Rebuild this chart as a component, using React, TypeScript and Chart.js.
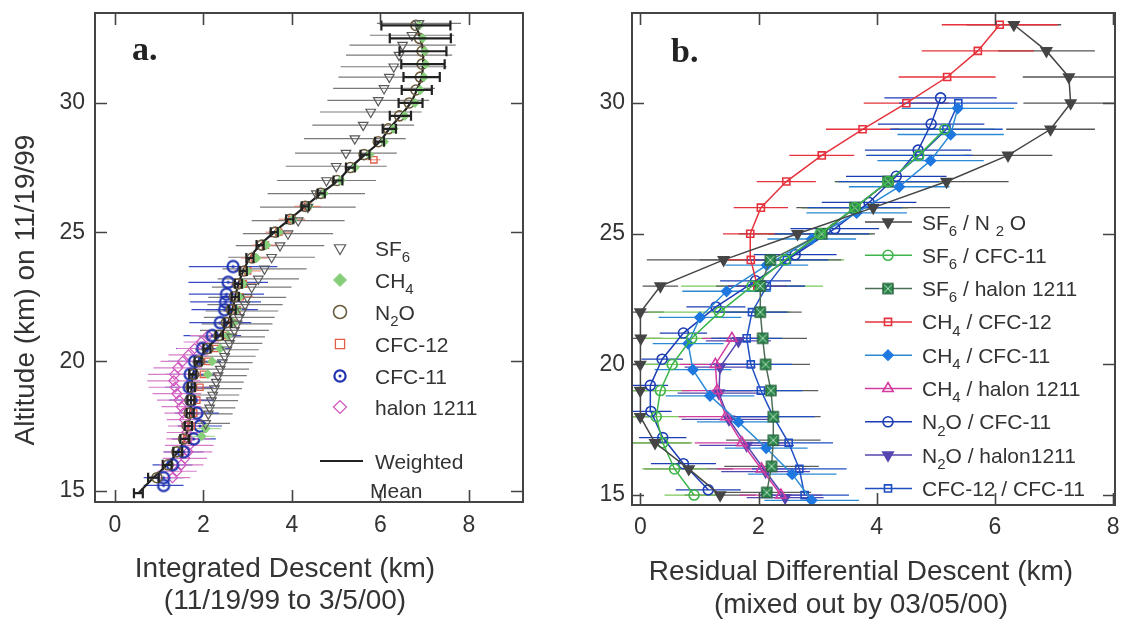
import React, { useEffect, useRef } from "react";
import { Chart, registerables } from "chart.js";
import { drawPoint } from "chart.js/helpers";

Chart.register(...registerables);

const FONT = '"Liberation Sans", Arial, Helvetica, sans-serif';
const SERIF = '"Liberation Serif", "Times New Roman", serif';
const INK = "#333333";

// ---------- shared ticks ----------
const altTicks = [15, 20, 25, 30];
const aXTicks = [0, 2, 4, 6, 8];
const bXTicks = [0, 2, 4, 6, 8];

// ---------- panel a : integrated descent ----------
const wmAlt = [14.9, 15.5, 16.0, 16.5, 17.0, 17.5, 18.0, 18.5, 19.0, 19.5, 20.0, 20.5, 21.0, 21.5, 22.0, 22.5, 23.0, 23.5, 24.0, 24.5, 25.0, 25.5, 26.0, 26.5, 27.0, 27.5, 28.0, 28.5, 29.0, 29.5, 30.0, 30.5, 31.0, 31.5, 32.0, 32.5, 33.0];
const wmX = [0.53, 0.87, 1.18, 1.42, 1.58, 1.66, 1.7, 1.72, 1.73, 1.76, 1.88, 2.08, 2.36, 2.55, 2.65, 2.72, 2.79, 2.9, 3.05, 3.28, 3.6, 3.95, 4.3, 4.66, 5.04, 5.32, 5.65, 5.98, 6.2, 6.45, 6.68, 6.82, 6.93, 6.96, 6.96, 6.9, 6.8];
const wmErr = [0.1, 0.12, 0.1, 0.1, 0.1, 0.08, 0.08, 0.08, 0.08, 0.08, 0.08, 0.08, 0.08, 0.08, 0.08, 0.08, 0.08, 0.08, 0.08, 0.08, 0.08, 0.08, 0.08, 0.08, 0.1, 0.1, 0.1, 0.1, 0.15, 0.24, 0.27, 0.34, 0.41, 0.49, 0.53, 0.69, 0.78];

const sf6Alt = [17.6, 17.97, 18.2, 18.48, 18.7, 18.95, 19.2, 19.45, 19.7, 19.95, 20.2, 20.45, 20.7, 20.95, 21.2, 21.45, 21.7, 21.95, 22.2, 22.48, 22.87, 23.19, 23.58, 24.03, 24.48, 24.94, 25.45, 25.97, 26.49, 27.0, 27.55, 28.06, 28.62, 29.14, 29.65, 30.1, 30.56, 31.0, 31.4, 31.85, 32.24, 32.62, 33.08];
const sf6X = [2.05, 2.11, 2.14, 2.18, 2.21, 2.25, 2.29, 2.33, 2.38, 2.43, 2.48, 2.53, 2.59, 2.64, 2.7, 2.76, 2.81, 2.87, 2.94, 2.99, 3.09, 3.24, 3.38, 3.54, 3.73, 3.91, 4.14, 4.36, 4.55, 4.78, 5.0, 5.22, 5.42, 5.61, 5.78, 5.95, 6.08, 6.2, 6.3, 6.42, 6.5, 6.71, 6.87];
const sf6Err = [0.55, 0.55, 0.58, 0.6, 0.6, 0.62, 0.62, 0.65, 0.65, 0.68, 0.7, 0.72, 0.74, 0.75, 0.78, 0.8, 0.8, 0.82, 0.85, 0.88, 0.9, 0.92, 0.95, 0.98, 1.0, 1.02, 1.05, 1.08, 1.1, 1.12, 1.14, 1.15, 1.15, 1.15, 1.15, 1.15, 1.15, 1.15, 1.2, 1.2, 1.2, 0.95, 0.95];

const ch4Alt = [17.1, 17.4, 19.5, 20.0, 20.5, 21.0, 21.5, 22.0, 22.5, 23.0, 23.5, 24.0, 24.5, 25.0, 25.5, 26.0, 26.5, 27.0, 27.5, 28.0, 28.5, 29.0, 29.5, 30.0, 30.5, 31.0, 31.5, 32.0, 32.5, 33.0];
const ch4X = [1.96, 2.05, 2.1, 2.2, 2.38, 2.55, 2.68, 2.76, 2.82, 2.9, 3.0, 3.2, 3.42, 3.7, 4.02, 4.38, 4.72, 5.1, 5.42, 5.75, 6.08, 6.3, 6.55, 6.78, 6.9, 6.98, 7.02, 7.0, 6.95, 6.88];
const ch4Err = [0.3, 0.35, 0, 0, 0, 0, 0, 0, 0, 0, 0, 0, 0, 0, 0, 0, 0, 0, 0, 0, 0, 0, 0, 0, 0, 0, 0, 0, 0, 0];

const n2oAlt = [15.5, 16.0, 16.5, 17.0, 17.5, 18.0, 18.5, 19.0, 19.5, 20.0, 20.5, 21.0, 21.5, 22.0, 22.5, 23.0, 23.5, 24.0, 24.5, 25.0, 25.5, 26.0, 26.5, 27.0, 27.5, 28.0, 28.5, 29.0, 29.5, 30.0, 30.5, 31.0, 31.5, 32.0, 32.5, 33.0];
const n2oX = [0.95, 1.2, 1.4, 1.55, 1.64, 1.68, 1.7, 1.72, 1.78, 1.9, 2.1, 2.35, 2.52, 2.63, 2.7, 2.78, 2.92, 3.1, 3.32, 3.62, 3.96, 4.3, 4.65, 5.02, 5.32, 5.63, 5.95, 6.18, 6.43, 6.65, 6.8, 6.9, 6.94, 6.94, 6.88, 6.8];

const cfc12Alt = [17.0, 17.5, 18.0, 18.5, 19.0, 19.5, 20.0, 20.5, 21.0, 21.5, 22.0, 22.5, 23.0, 23.5, 24.0, 24.5, 25.0, 25.5, 26.0, 27.8];
const cfc12X = [1.62, 1.72, 1.78, 1.85, 1.92, 2.0, 2.1, 2.28, 2.5, 2.66, 2.76, 2.83, 2.9, 3.0, 3.15, 3.4, 3.7, 4.0, 4.35, 5.85];
const cfc12Err = [0.3, 0.3, 0.3, 0.3, 0.3, 0.3, 0.3, 0.3, 0.3, 0.3, 0.3, 0.3, 0.3, 0.3, 0.3, 0.3, 0.3, 0.3, 0.3, 0.15];

const cfc11Alt = [15.2, 15.5, 16.0, 16.5, 17.0, 17.5, 18.0, 18.5, 19.0, 19.5, 20.0, 20.5, 21.0, 21.5, 22.0, 22.3, 22.6, 23.06, 23.67];
const cfc11X = [1.1, 1.1, 1.3, 1.55, 1.78, 1.92, 1.85, 1.72, 1.68, 1.7, 1.8, 1.98, 2.2, 2.38, 2.48, 2.5, 2.52, 2.56, 2.67];
const cfc11Err = [0.45, 0.45, 0.45, 0.45, 0.5, 0.5, 0.5, 0.5, 0.55, 0.55, 0.6, 0.6, 0.65, 0.7, 0.75, 0.8, 0.85, 0.9, 1.0];

const halonAlt = [15.5, 15.75, 16.0, 16.25, 16.5, 16.75, 17.0, 17.25, 17.5, 17.75, 18.0, 18.25, 18.5, 18.75, 19.0, 19.25, 19.5, 19.75, 20.0, 20.25, 20.5, 20.75, 21.0];
const halonX = [1.3, 1.4, 1.5, 1.58, 1.65, 1.68, 1.66, 1.62, 1.6, 1.57, 1.54, 1.5, 1.45, 1.4, 1.36, 1.33, 1.35, 1.42, 1.53, 1.66, 1.8, 1.95, 2.1];
const halonErr = [0.4, 0.45, 0.5, 0.5, 0.55, 0.55, 0.5, 0.45, 0.4, 0.4, 0.42, 0.45, 0.5, 0.55, 0.6, 0.6, 0.6, 0.55, 0.5, 0.45, 0.4, 0.4, 0.4];

// ---------- panel b : residual differential descent ----------
const sf6n2oAlt = [15, 16, 17, 18, 19, 20, 21, 22, 23, 24, 25, 26, 27, 28, 29, 30, 31, 32, 33];
const sf6n2oX = [1.35, 0.82, 0.25, 0.0, 0.0, 0.0, 0.01, 0.0, 0.34, 1.41, 2.66, 3.94, 5.18, 6.22, 6.94, 7.28, 7.25, 6.87, 6.32];
const sf6n2oErr = [0.6, 0.75, 0.6, 0.25, 0.3, 0.3, 0.35, 0.4, 0.3, 1.3, 1.0, 1.3, 1.05, 0.75, 0.75, 0.8, 0.78, 0.82, 0.8];

const sf6cfc11Alt = [15, 16, 17, 18, 19, 20, 21, 22, 23, 24, 25, 26, 27, 28, 29];
const sf6cfc11X = [0.91, 0.58, 0.38, 0.27, 0.34, 0.54, 0.87, 1.34, 1.89, 2.45, 3.04, 3.63, 4.19, 4.71, 5.15];
const sf6cfc11Err = [0.5, 0.55, 0.5, 0.5, 0.5, 0.6, 0.8, 1.2, 1.2, 1.0, 0.9, 0.9, 0.9, 0.85, 0.85];

const sf6halAlt = [15.1, 16.1, 17.1, 18, 19, 20, 21, 22, 23, 24, 25, 26, 27];
const sf6halX = [2.14, 2.22, 2.25, 2.25, 2.21, 2.12, 2.07, 2.03, 2.03, 2.2, 3.07, 3.63, 4.19];
const sf6halErr = [0.75, 0.8, 0.8, 0.8, 0.8, 0.75, 0.75, 0.7, 0.75, 1.2, 0.9, 0.9, 0.9];

const ch4cfc12Alt = [23, 24, 25, 26, 27, 28, 29, 30, 31, 32, 33];
const ch4cfc12X = [1.98, 1.87, 1.86, 2.04, 2.47, 3.07, 3.76, 4.5, 5.19, 5.71, 6.08];
const ch4cfc12Err = [0.5, 0.5, 0.46, 0.46, 0.5, 0.55, 0.62, 0.72, 0.82, 0.95, 0.98];

const ch4cfc11Alt = [14.8, 15.8, 16.8, 17.8, 18.8, 19.8, 20.8, 21.8, 22.8, 23.8, 24.8, 25.8, 26.8, 27.8, 28.8, 29.8];
const ch4cfc11X = [2.9, 2.57, 2.13, 1.66, 1.18, 0.89, 0.81, 1.01, 1.46, 2.14, 2.9, 3.66, 4.38, 4.91, 5.25, 5.37];
const ch4cfc11Err = [0.8, 0.75, 0.7, 0.7, 0.75, 0.65, 0.6, 0.7, 0.75, 0.7, 0.75, 0.85, 0.85, 0.9, 0.9, 0.95];

const ch4halAlt = [15, 16, 17, 18, 19, 20, 21];
const ch4halX = [2.38, 2.05, 1.72, 1.45, 1.3, 1.27, 1.55];
const ch4halErr = [0.7, 0.75, 0.8, 0.8, 0.6, 0.6, 0.5];

const n2ocfc11Alt = [15.2, 16.2, 17.2, 18.2, 19.2, 20.2, 21.2, 22.2, 23.2, 24.2, 25.2, 26.2, 27.2, 28.2, 29.2, 30.2];
const n2ocfc11X = [1.15, 0.73, 0.38, 0.18, 0.17, 0.37, 0.73, 1.28, 1.95, 2.62, 3.29, 3.87, 4.33, 4.7, 4.92, 5.08];
const n2ocfc11Err = [0.55, 0.55, 0.4, 0.35, 0.3, 0.35, 0.4, 0.5, 0.6, 0.7, 0.75, 0.8, 0.85, 0.9, 0.9, 0.95];

const n2ohalAlt = [14.9, 15.9, 16.9, 17.9, 18.9, 19.9, 20.9];
const n2ohalX = [2.45, 2.12, 1.8, 1.5, 1.33, 1.35, 1.66];
const n2ohalErr = [0.65, 0.75, 0.8, 0.8, 0.7, 0.6, 0.55];

const cfcRatioAlt = [15, 16, 17, 18, 19, 20, 21, 22, 23, 24, 25, 26, 27, 28, 29, 30];
const cfcRatioX = [2.78, 2.69, 2.51, 2.25, 2.04, 1.87, 1.8, 1.89, 2.14, 2.48, 3.07, 3.63, 4.2, 4.72, 5.18, 5.38];
const cfcRatioErr = [0.75, 0.8, 0.75, 0.7, 0.7, 0.7, 0.6, 0.6, 0.65, 0.7, 0.8, 0.8, 0.85, 0.9, 0.95, 1.0];

// ---------- legend labels ----------
type Seg = { t: string; sub?: boolean };
const aLegendLabels: Seg[][] = [
  [{ t: "SF" }, { t: "6", sub: true }],
  [{ t: "CH" }, { t: "4", sub: true }],
  [{ t: "N" }, { t: "2", sub: true }, { t: "O" }],
  [{ t: "CFC-12" }],
  [{ t: "CFC-11" }],
  [{ t: "halon 1211" }],
];
const bLegendLabels: Seg[][] = [
  [{ t: "SF" }, { t: "6", sub: true }, { t: " / N " }, { t: "2", sub: true }, { t: " O" }],
  [{ t: "SF" }, { t: "6", sub: true }, { t: " / CFC-11" }],
  [{ t: "SF" }, { t: "6", sub: true }, { t: " / halon 1211" }],
  [{ t: "CH" }, { t: "4", sub: true }, { t: " / CFC-12" }],
  [{ t: "CH" }, { t: "4", sub: true }, { t: " / CFC-11" }],
  [{ t: "CH" }, { t: "4", sub: true }, { t: " / halon 1211" }],
  [{ t: "N" }, { t: "2", sub: true }, { t: "O / CFC-11" }],
  [{ t: "N" }, { t: "2", sub: true }, { t: "O / halon1211" }],
  [{ t: "CFC-12 / CFC-11" }],
];

// ---------- helpers ----------
const pts = (xs: number[], ys: number[]) => xs.map((x, i) => ({ x, y: ys[i] }));

function drawRich(ctx: CanvasRenderingContext2D, segs: Seg[], x: number, yMid: number, size: number) {
  let cx = x;
  const base = yMid + size * 0.36;
  for (const s of segs) {
    const fs = s.sub ? Math.round(size * 0.72) : size;
    ctx.font = `${fs}px ${FONT}`;
    ctx.fillText(s.t, cx, s.sub ? base + size * 0.3 : base);
    cx += ctx.measureText(s.t).width;
  }
}

function legendMarker(ctx: CanvasRenderingContext2D, d: any, x: number, y: number, r?: number) {
  ctx.save();
  ctx.fillStyle = d.pointBackgroundColor;
  ctx.strokeStyle = d.pointBorderColor;
  ctx.lineWidth = d.pointBorderWidth;
  drawPoint(ctx, { pointStyle: d.pointStyle, rotation: d.pointRotation || 0, radius: r ?? d.pointRadius, borderWidth: d.pointBorderWidth } as any, x, y);
  ctx.restore();
}

function drawErr(chart: any, onTop: boolean) {
  const { ctx, chartArea: a } = chart;
  const xs = chart.scales.x;
  const ys = chart.scales.y;
  ctx.save();
  ctx.beginPath();
  ctx.rect(a.left, a.top, a.right - a.left, a.bottom - a.top);
  ctx.clip();
  chart.data.datasets.forEach((d: any) => {
    if (!d.errX || !!d.errOnTop !== onTop) return;
    ctx.strokeStyle = d.errColor;
    ctx.lineWidth = d.errWidth || 1;
    d.data.forEach((p: any, j: number) => {
      const e = d.errX[j];
      if (!e) return;
      const py = ys.getPixelForValue(p.y);
      const x1 = xs.getPixelForValue(p.x - e);
      const x2 = xs.getPixelForValue(p.x + e);
      ctx.beginPath();
      ctx.moveTo(x1, py);
      ctx.lineTo(x2, py);
      if (d.errCap) {
        ctx.moveTo(x1, py - d.errCap);
        ctx.lineTo(x1, py + d.errCap);
        ctx.moveTo(x2, py - d.errCap);
        ctx.lineTo(x2, py + d.errCap);
      }
      ctx.stroke();
    });
  });
  ctx.restore();
}

const errPlugin = {
  id: "errbars",
  beforeDatasetsDraw: (c: any) => drawErr(c, false),
  afterDatasetsDraw: (c: any) => drawErr(c, true),
};

const framePlugin = {
  id: "frame",
  afterDraw(chart: any) {
    const { ctx, chartArea: a } = chart;
    const x = chart.scales.x;
    const y = chart.scales.y;
    ctx.save();
    ctx.strokeStyle = "#444";
    ctx.lineWidth = 2;
    ctx.strokeRect(a.left, a.top, a.right - a.left, a.bottom - a.top);
    ctx.lineWidth = 1.6;
    const tl = 12;
    ctx.beginPath();
    x.ticks.forEach((t: any) => {
      const px = Math.round(x.getPixelForValue(t.value)) + 0.5;
      ctx.moveTo(px, a.bottom);
      ctx.lineTo(px, a.bottom - tl);
      ctx.moveTo(px, a.top);
      ctx.lineTo(px, a.top + tl);
    });
    y.ticks.forEach((t: any) => {
      const py = Math.round(y.getPixelForValue(t.value)) + 0.5;
      ctx.moveTo(a.left, py);
      ctx.lineTo(a.left + tl, py);
      ctx.moveTo(a.right, py);
      ctx.lineTo(a.right - tl, py);
    });
    ctx.stroke();
    ctx.restore();
  },
};

function makeCircleDot(color: string) {
  const c = document.createElement("canvas");
  c.width = 16;
  c.height = 16;
  const g = c.getContext("2d")!;
  g.strokeStyle = color;
  g.lineWidth = 2.2;
  g.beginPath();
  g.arc(8, 8, 5.6, 0, Math.PI * 2);
  g.stroke();
  g.fillStyle = color;
  g.beginPath();
  g.arc(8, 8, 1.5, 0, Math.PI * 2);
  g.fill();
  return c;
}

function makeSquareX(fill: string, edge: string, cross: string) {
  const c = document.createElement("canvas");
  c.width = 14;
  c.height = 14;
  const g = c.getContext("2d")!;
  g.fillStyle = fill;
  g.fillRect(2, 2, 10, 10);
  g.strokeStyle = cross;
  g.lineWidth = 1;
  g.beginPath();
  g.moveTo(3, 3);
  g.lineTo(11, 11);
  g.moveTo(11, 3);
  g.lineTo(3, 11);
  g.stroke();
  g.strokeStyle = edge;
  g.lineWidth = 1.5;
  g.strokeRect(2, 2, 10, 10);
  return c;
}

type Cfg = {
  datasets: any[];
  xMin: number; xMax: number; xTicks: number[];
  yMin: number; yMax: number;
  top: number; right: number; xH: number; yW: number; xPad: number; yPad: number;
  text: any;
};

function buildChart(canvas: HTMLCanvasElement, cfg: Cfg) {
  const tickFont = { family: FONT, size: 23 };
  return new Chart(canvas, {
    type: "scatter",
    data: { datasets: cfg.datasets },
    options: {
      animation: false,
      responsive: false,
      maintainAspectRatio: false,
      events: [],
      layout: { padding: { top: cfg.top, right: cfg.right, left: 0, bottom: 0 } },
      plugins: { legend: { display: false }, tooltip: { enabled: false } },
      scales: {
        x: {
          type: "linear",
          min: cfg.xMin,
          max: cfg.xMax,
          grid: { display: false, drawTicks: false },
          border: { display: false },
          afterBuildTicks: (s: any) => { s.ticks = cfg.xTicks.map((v) => ({ value: v })); },
          afterFit: (s: any) => { s.height = cfg.xH; s.paddingLeft = 0; s.paddingRight = 0; },
          ticks: { autoSkip: false, maxRotation: 0, padding: cfg.xPad, color: INK, font: tickFont, callback: (v: any) => String(v) },
        },
        y: {
          type: "linear",
          min: cfg.yMin,
          max: cfg.yMax,
          grid: { display: false, drawTicks: false },
          border: { display: false },
          afterBuildTicks: (s: any) => { s.ticks = altTicks.map((v) => ({ value: v })); },
          afterFit: (s: any) => { s.width = cfg.yW; s.paddingTop = 0; s.paddingBottom = 0; },
          ticks: { autoSkip: false, padding: cfg.yPad, color: INK, font: tickFont, callback: (v: any) => String(v) },
        },
      },
    } as any,
    plugins: [errPlugin, framePlugin, cfg.text],
  });
}

const CLEAR = "rgba(0,0,0,0)";

function panelA(circleDot: HTMLCanvasElement): Cfg {
  const datasets = [
    { label: "SF6", data: pts(sf6X, sf6Alt), pointStyle: "triangle", pointRotation: 180, pointRadius: 5.5, pointBorderWidth: 1.2, pointBorderColor: "#5a5a5a", pointBackgroundColor: CLEAR, errX: sf6Err, errColor: "#7a7a7a", errWidth: 1.2 },
    { label: "CH4", data: pts(ch4X, ch4Alt), pointStyle: "rectRot", pointRadius: 4.5, pointBorderWidth: 1, pointBorderColor: "#86cf78", pointBackgroundColor: "#86cf78", errX: ch4Err, errColor: "#a8dc98", errWidth: 1.2 },
    { label: "N2O", data: pts(n2oX, n2oAlt), pointStyle: "circle", pointRadius: 5, pointBorderWidth: 1.6, pointBorderColor: "#6a5c3c", pointBackgroundColor: CLEAR },
    { label: "CFC-12", data: pts(cfc12X, cfc12Alt), pointStyle: "rect", pointRadius: 4.5, pointBorderWidth: 1.3, pointBorderColor: "#e0604c", pointBackgroundColor: CLEAR, errX: cfc12Err, errColor: "#e87a68", errWidth: 1 },
    { label: "CFC-11", data: pts(cfc11X, cfc11Alt), pointStyle: circleDot, pointRadius: 6, pointBorderWidth: 2, pointBorderColor: "#1f33b0", pointBackgroundColor: CLEAR, errX: cfc11Err, errColor: "#3a4cc4", errWidth: 1.2 },
    { label: "halon 1211", data: pts(halonX, halonAlt), pointStyle: "rectRot", pointRadius: 5, pointBorderWidth: 1.2, pointBorderColor: "#d055bd", pointBackgroundColor: CLEAR, errX: halonErr, errColor: "#d77cc9", errWidth: 1.2 },
    { label: "Weighted Mean", data: pts(wmX, wmAlt), showLine: true, borderColor: "#222", borderWidth: 2.2, tension: 0.4, pointRadius: 0, pointBorderColor: "#222", pointBackgroundColor: "#222", errX: wmErr, errColor: "#222", errWidth: 2.2, errCap: 5, errOnTop: true },
  ];
  const legendY = [248, 280, 312, 344, 376, 407];
  const text = {
    id: "textA",
    afterDraw(chart: any) {
      const ctx: CanvasRenderingContext2D = chart.ctx;
      ctx.save();
      ctx.textAlign = "left";
      ctx.fillStyle = "#222";
      ctx.font = `bold 34px ${SERIF}`;
      ctx.fillText("a.", 132, 60);
      aLegendLabels.forEach((segs, i) => {
        legendMarker(ctx, chart.data.datasets[i], 340, legendY[i], i === 4 ? undefined : 6.5);
        ctx.fillStyle = INK;
        drawRich(ctx, segs, 375, legendY[i], 21);
      });
      ctx.strokeStyle = "#222";
      ctx.lineWidth = 2.2;
      ctx.beginPath();
      ctx.moveTo(320, 461);
      ctx.lineTo(363, 461);
      ctx.stroke();
      ctx.fillStyle = INK;
      ctx.font = `21px ${FONT}`;
      ctx.fillText("Weighted", 375, 461 + 7.5);
      ctx.fillText("Mean", 370, 490 + 7.5);
      ctx.textAlign = "center";
      ctx.font = `28px ${FONT}`;
      ctx.fillText("Integrated Descent (km)", 285, 567 + 10);
      ctx.fillText("(11/19/99 to 3/5/00)", 285, 599 + 10);
      ctx.translate(24, 290);
      ctx.rotate(-Math.PI / 2);
      ctx.fillText("Altitude (km) on 11/19/99", 0, 10);
      ctx.restore();
    },
  };
  return { datasets, xMin: -0.45, xMax: 9.22, xTicks: aXTicks, yMin: 14.56, yMax: 33.48, top: 13, right: 37, xH: 117, yW: 95, xPad: 10, yPad: 10, text };
}

function panelB(squareX: HTMLCanvasElement): Cfg {
  const line = (label: string, xs: number[], ys: number[], color: string, style: any, err: number[], errColor: string) => ({
    label, data: pts(xs, ys), showLine: true, borderColor: color, borderWidth: 1.5, tension: 0,
    pointBorderColor: color, pointBorderWidth: 1.6, ...style, errX: err, errColor, errWidth: 1.3,
  });
  const datasets = [
    line("SF6 / N2O", sf6n2oX, sf6n2oAlt, "#454545", { pointStyle: "triangle", pointRotation: 180, pointRadius: 6, pointBackgroundColor: "#454545" }, sf6n2oErr, "#555"),
    line("SF6 / CFC-11", sf6cfc11X, sf6cfc11Alt, "#3db54a", { pointStyle: "circle", pointRadius: 5, pointBackgroundColor: CLEAR }, sf6cfc11Err, "#7cc95a"),
    line("SF6 / halon 1211", sf6halX, sf6halAlt, "#4e6d58", { pointStyle: squareX, pointRadius: 6, pointBackgroundColor: "#2e8b4e" }, sf6halErr, "#5a5f5c"),
    line("CH4 / CFC-12", ch4cfc12X, ch4cfc12Alt, "#e5323c", { pointStyle: "rect", pointRadius: 5, pointBackgroundColor: CLEAR }, ch4cfc12Err, "#e5323c"),
    line("CH4 / CFC-11", ch4cfc11X, ch4cfc11Alt, "#2b8ad6", { pointStyle: "rectRot", pointRadius: 5, pointBackgroundColor: "#1e78e0", pointBorderColor: "#1e78e0" }, ch4cfc11Err, "#2b8ad6"),
    line("CH4 / halon 1211", ch4halX, ch4halAlt, "#d23ca0", { pointStyle: "triangle", pointRadius: 6, pointBackgroundColor: CLEAR }, ch4halErr, "#d23ca0"),
    line("N2O / CFC-11", n2ocfc11X, n2ocfc11Alt, "#1c3db4", { pointStyle: "circle", pointRadius: 5, pointBackgroundColor: CLEAR }, n2ocfc11Err, "#1c3db4"),
    line("N2O / halon1211", n2ohalX, n2ohalAlt, "#5546b0", { pointStyle: "triangle", pointRotation: 180, pointRadius: 6, pointBackgroundColor: "#5546b0" }, n2ohalErr, "#5546b0"),
    line("CFC-12 / CFC-11", cfcRatioX, cfcRatioAlt, "#1f4fc2", { pointStyle: "rect", pointRadius: 5, pointBackgroundColor: CLEAR }, cfcRatioErr, "#1f4fc2"),
  ];
  const text = {
    id: "textB",
    afterDraw(chart: any) {
      const ctx: CanvasRenderingContext2D = chart.ctx;
      ctx.save();
      ctx.textAlign = "left";
      ctx.fillStyle = "#222";
      ctx.font = `bold 34px ${SERIF}`;
      ctx.fillText("b.", 111, 62);
      bLegendLabels.forEach((segs, i) => {
        const d = chart.data.datasets[i];
        const y = 222 + i * 33.3;
        ctx.strokeStyle = d.borderColor;
        ctx.lineWidth = 1.5;
        ctx.beginPath();
        ctx.moveTo(305, y);
        ctx.lineTo(352, y);
        ctx.stroke();
        legendMarker(ctx, d, 328, y);
        ctx.fillStyle = INK;
        drawRich(ctx, segs, 362, y, 21);
      });
      ctx.textAlign = "center";
      ctx.fillStyle = INK;
      ctx.font = `28px ${FONT}`;
      ctx.fillText("Residual Differential Descent (km)", 301, 570 + 10);
      ctx.fillText("(mixed out by 03/05/00)", 301, 603 + 10);
      ctx.restore();
    },
  };
  return { datasets, xMin: -0.14, xMax: 8.03, xTicks: bXTicks, yMin: 14.62, yMax: 33.45, top: 13, right: 8, xH: 114, yW: 72, xPad: 9, yPad: 7, text };
}

export default function App() {
  const refA = useRef<HTMLCanvasElement>(null);
  const refB = useRef<HTMLCanvasElement>(null);
  useEffect(() => {
    const circleDot = makeCircleDot("#1f33b0");
    const squareX = makeSquareX("#2e8b4e", "#2a6a40", "#b8d8c0");
    const ca = buildChart(refA.current!, panelA(circleDot));
    const cb = buildChart(refB.current!, panelB(squareX));
    return () => {
      ca.destroy();
      cb.destroy();
    };
  }, []);
  return (
    <div style={{ position: "fixed", left: 0, top: 0, width: 1123, height: 619, background: "#ffffff" }}>
      <canvas ref={refA} width={560} height={619} style={{ position: "absolute", left: 0, top: 0, width: 560, height: 619 }} />
      <canvas ref={refB} width={563} height={619} style={{ position: "absolute", left: 560, top: 0, width: 563, height: 619 }} />
    </div>
  );
}
